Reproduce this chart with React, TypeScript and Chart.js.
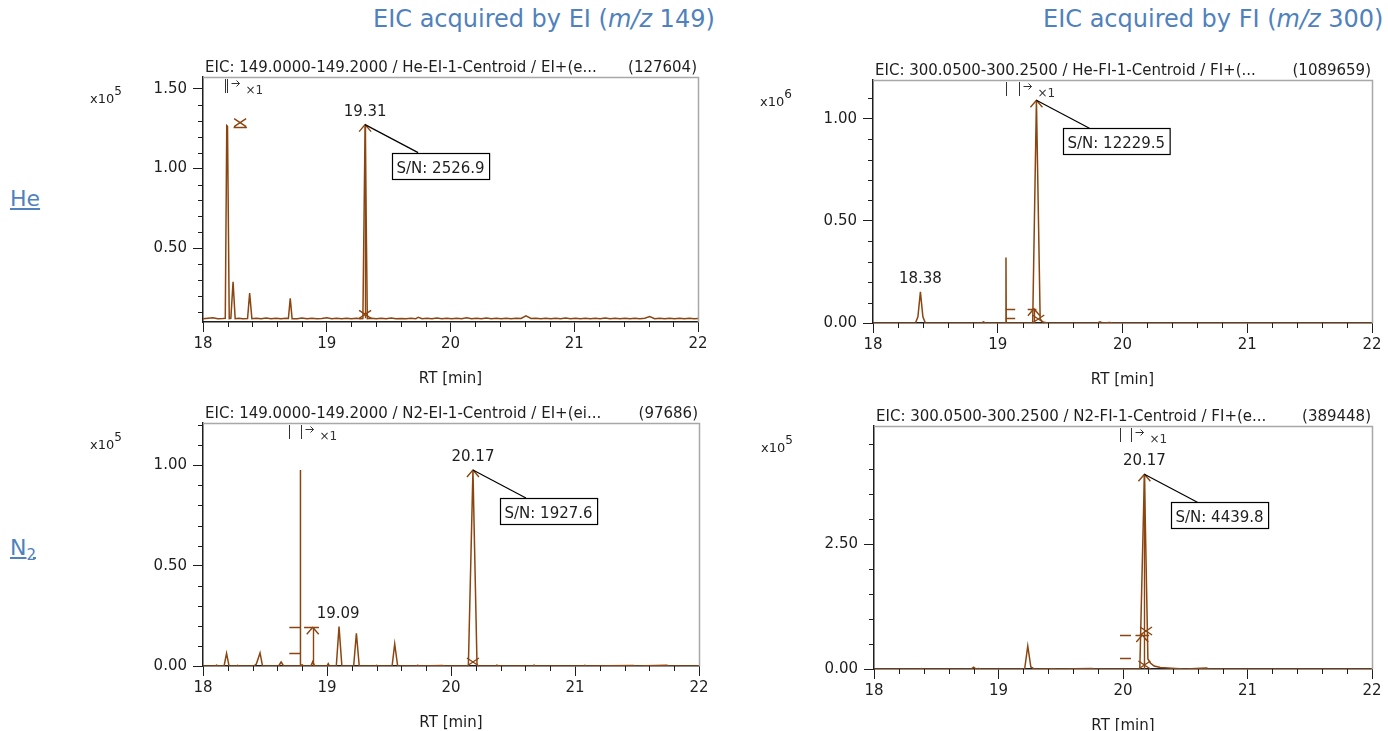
import React, { useEffect, useRef } from "react";
import { Chart, registerables } from "chart.js";

Chart.register(...registerables);

const FONT_FAMILY = "'DejaVu Sans', Verdana, sans-serif";
const BROWN = "#8b4510";
const INK = "#1e1e1e";
const FRAME = "#a8a8a8";
const BLUE = "#4f81bd";

// ---------- He carrier, EI, m/z 149 (intensity x10^5) ----------
const heEiRt = [
  18.0, 18.04, 18.08, 18.12, 18.16, 18.18, 18.192, 18.198, 18.212, 18.225, 18.243, 18.26, 18.29, 18.32, 18.36, 18.377, 18.395,
  18.43, 18.47, 18.51, 18.55, 18.59, 18.63, 18.67, 18.69, 18.705, 18.72, 18.76, 18.8, 18.84, 18.88, 18.92, 18.96,
  19.0, 19.04, 19.08, 19.12, 19.16, 19.2, 19.24, 19.27, 19.292, 19.31, 19.328, 19.36, 19.4, 19.44, 19.48, 19.52,
  19.56, 19.6, 19.64, 19.68, 19.72, 19.74, 19.77, 19.81, 19.85, 19.89, 19.93, 19.97, 20.01, 20.05, 20.09, 20.13,
  20.17, 20.21, 20.25, 20.29, 20.33, 20.37, 20.41, 20.45, 20.49, 20.53, 20.57, 20.61, 20.65, 20.69, 20.73, 20.77,
  20.81, 20.85, 20.89, 20.93, 20.97, 21.01, 21.05, 21.09, 21.13, 21.17, 21.21, 21.25, 21.29, 21.33, 21.37, 21.41,
  21.45, 21.49, 21.53, 21.57, 21.61, 21.65, 21.69, 21.73, 21.77, 21.81, 21.85, 21.89, 21.93, 21.97, 22.0,
];
const heEiInt = [
  0.057, 0.061, 0.064, 0.058, 0.059, 0.06, 1.27, 1.265, 0.058, 0.06, 0.29, 0.058, 0.061, 0.057, 0.059, 0.218, 0.058,
  0.06, 0.058, 0.062, 0.057, 0.06, 0.058, 0.061, 0.059, 0.185, 0.058, 0.057, 0.062, 0.058, 0.06, 0.057, 0.059,
  0.063, 0.058, 0.06, 0.057, 0.061, 0.058, 0.06, 0.058, 0.059, 1.276, 0.058, 0.061, 0.057, 0.06, 0.058, 0.062,
  0.057, 0.059, 0.058, 0.061, 0.058, 0.067, 0.058, 0.06, 0.057, 0.062, 0.058, 0.06, 0.057, 0.061, 0.058, 0.063,
  0.058, 0.06, 0.057, 0.062, 0.058, 0.06, 0.058, 0.061, 0.057, 0.06, 0.059, 0.075, 0.059, 0.06, 0.058, 0.061,
  0.057, 0.06, 0.058, 0.062, 0.057, 0.06, 0.058, 0.061, 0.057, 0.06, 0.058, 0.062, 0.057, 0.06, 0.058, 0.061,
  0.057, 0.06, 0.058, 0.061, 0.071, 0.058, 0.06, 0.057, 0.061, 0.058, 0.06, 0.057, 0.061, 0.058, 0.059,
];

// ---------- He carrier, FI, m/z 300 (intensity x10^6) ----------
const heFiRt = [
  18.0, 18.34, 18.36, 18.38, 18.4, 18.42, 18.87, 18.885, 18.9, 19.064, 19.066, 19.068, 19.28, 19.31, 19.34, 19.36,
  19.4, 19.8, 19.82, 19.84, 19.9, 19.92, 22.0,
];
const heFiInt = [
  0, 0, 0.03, 0.152, 0.03, 0, 0, 0.006, 0, 0, 0.32, 0, 0, 1.09, 0.02, 0.005,
  0, 0, 0.006, 0, 0.003, 0, 0,
];

// ---------- N2 carrier, EI, m/z 149 (intensity x10^5) ----------
const n2EiRt = [
  18.0, 18.1, 18.11, 18.12, 18.17, 18.19, 18.21, 18.27, 18.28, 18.29, 18.41, 18.43, 18.46, 18.48, 18.61, 18.63,
  18.65, 18.783, 18.785, 18.787, 18.8, 18.81, 18.87, 18.885, 18.9, 19.0, 19.01, 19.02, 19.075, 19.097, 19.12, 19.215,
  19.237, 19.26, 19.39, 19.4, 19.41, 19.525, 19.546, 19.57, 19.72, 19.73, 19.75, 19.93, 19.95, 20.14, 20.177, 20.21,
  20.36, 20.37, 20.38, 20.66, 20.67, 20.68, 21.07, 21.08, 21.09, 21.47, 21.49, 21.74, 21.76, 22.0,
];
const n2EiInt = [
  0, 0, 0.004, 0, 0, 0.063, 0, 0, 0.003, 0, 0, 0.01, 0.065, 0, 0, 0.02,
  0, 0, 0.977, 0, 0.006, 0, 0, 0.022, 0, 0, 0.012, 0, 0, 0.196, 0, 0,
  0.163, 0, 0, 0.003, 0, 0, 0.11, 0, 0, 0.003, 0, 0.003, 0, 0, 0.977, 0,
  0, 0.004, 0, 0, 0.004, 0, 0, 0.003, 0, 0.003, 0, 0.004, 0, 0,
];

// ---------- N2 carrier, FI, m/z 300 (intensity x10^5) ----------
const n2FiRt = [
  18.0, 18.37, 18.38, 18.39, 18.78, 18.8, 18.82, 18.84, 18.86, 19.21, 19.235, 19.26, 19.28, 19.3, 19.45, 19.47,
  19.75, 19.77, 20.135, 20.172, 20.2, 20.22, 20.25, 20.3, 20.36, 20.42, 20.5, 20.67, 20.69, 22.0,
];
const n2FiInt = [
  0, 0, 0.01, 0, 0, 0.035, 0, 0.01, 0, 0, 0.46, 0.04, 0.01, 0, 0.005, 0,
  0.01, 0, 0, 3.894, 0.2, 0.12, 0.06, 0.03, 0.02, 0.01, 0, 0.02, 0, 0,
];

// ---------- axis ranges ----------
const rtRange = [18, 22];
const yRanges = { heEi: [0.037, 1.575], heFi: [0, 1.189], n2Ei: [0, 1.211], n2Fi: [0, 4.86] };
const yMajor = { heEi: 0.5, heFi: 0.5, n2Ei: 0.5, n2Fi: 2.5 };
const yMinor = { heEi: 0.1, heFi: 0.1, n2Ei: 0.1, n2Fi: 0.5 };
const exponents = { heEi: "5", heFi: "6", n2Ei: "5", n2Fi: "5" };

// ---------- titles ----------
const titlesLeft = {
  heEi: "EIC: 149.0000-149.2000 / He-EI-1-Centroid / EI+(e...",
  heFi: "EIC: 300.0500-300.2500 / He-FI-1-Centroid / FI+(...",
  n2Ei: "EIC: 149.0000-149.2000 / N2-EI-1-Centroid / EI+(ei...",
  n2Fi: "EIC: 300.0500-300.2500 / N2-FI-1-Centroid / FI+(e...",
};
const titlesRight = { heEi: "(127604)", heFi: "(1089659)", n2Ei: "(97686)", n2Fi: "(389448)" };

// ---------- peak annotations [rt, intensity, text] ----------
const peakLabels = {
  heEi: [[19.31, 1.276, "19.31"]],
  heFi: [[18.38, 0.152, "18.38"]],
  n2Ei: [[19.09, 0.196, "19.09"], [20.177, 0.977, "20.17"]],
  n2Fi: [[20.172, 3.894, "20.17"]],
};
const snCallouts = {
  heEi: [[19.31, 1.276, "S/N: 2526.9"]],
  heFi: [[19.31, 1.09, "S/N: 12229.5"]],
  n2Ei: [[20.177, 0.977, "S/N: 1927.6"]],
  n2Fi: [[20.172, 3.894, "S/N: 4439.8"]],
};
// apex carets [rt, intensity]
const carets = {
  heEi: [[19.31, 1.276]],
  heFi: [[19.31, 1.09], [19.29, 0.07]],
  n2Ei: [[20.177, 0.977], [18.885, 0.193]],
  n2Fi: [[20.172, 3.894], [20.155, 0.68]],
};
// cross marks [rt, intensity]
const crosses = {
  heEi: [[19.31, 0.06], [18.3, 1.263]],
  heFi: [[19.325, 0.0]],
  n2Ei: [[20.177, 0.0]],
  n2Fi: [[20.172, 0.0], [20.185, 0.68]],
};
// horizontal brown segments [rtStart, rtEnd, intensity]
const hSegs = {
  heEi: [[18.247, 18.355, 1.263]],
  heFi: [[19.064, 19.14, 0.07], [19.064, 19.14, 0.026], [19.24, 19.31, 0.07]],
  n2Ei: [[18.696, 18.788, 0.193], [18.696, 18.788, 0.063], [18.815, 18.935, 0.193]],
  n2Fi: [[19.976, 20.064, 0.68], [19.976, 20.064, 0.226], [20.1, 20.21, 0.68]],
};
// vertical brown segments [rt, from, to]
const vSegs = {
  heEi: [[19.31, 0.06, 1.276]],
  heFi: [[19.29, 0, 0.07]],
  n2Ei: [[18.885, 0, 0.193]],
  n2Fi: [[20.172, 0, 3.894]],
};
// range markers [rtStart, rtEnd]
const rangeMarks = { heEi: [18.175, 18.191], heFi: [19.064, 19.168], n2Ei: [18.696, 18.788], n2Fi: [19.976, 20.064] };

// ---------- layout (page pixels of each plot area) ----------
const PADL = 125, PADT = 40, PADR = 14, PADB = 66;
const boxes = {
  heEi: { L: 203, T: 77, R: 698, B: 322 },
  heFi: { L: 873, T: 80, R: 1372, B: 323 },
  n2Ei: { L: 203, T: 423, R: 699, B: 666 },
  n2Fi: { L: 874, T: 426, R: 1372, B: 669 },
};
const series = {
  heEi: [heEiRt, heEiInt],
  heFi: [heFiRt, heFiInt],
  n2Ei: [n2EiRt, n2EiInt],
  n2Fi: [n2FiRt, n2FiInt],
};

type Key = "heEi" | "heFi" | "n2Ei" | "n2Fi";

function makeDecor(key: Key) {
  return {
    id: "decor_" + key,
    afterDraw(chart: any) {
      const ctx: CanvasRenderingContext2D = chart.ctx;
      const xs = chart.scales.x;
      const ys = chart.scales.y;
      const ca = chart.chartArea;
      const px = (v: number) => xs.getPixelForValue(v);
      const py = (v: number) => ys.getPixelForValue(v);
      ctx.save();

      // top/right frame
      ctx.strokeStyle = FRAME;
      ctx.lineWidth = 1.5;
      ctx.beginPath();
      ctx.moveTo(ca.left, Math.round(ca.top) + 0.5);
      ctx.lineTo(Math.round(ca.right) + 0.5, Math.round(ca.top) + 0.5);
      ctx.lineTo(Math.round(ca.right) + 0.5, ca.bottom);
      ctx.stroke();

      // minor ticks
      ctx.strokeStyle = INK;
      ctx.lineWidth = 1;
      ctx.beginPath();
      for (let k = 1; k < 20; k++) {
        const v = rtRange[0] + k * 0.2;
        if (v > rtRange[1] + 1e-9) break;
        if (k % 5 === 0) continue;
        const x = Math.round(px(v)) + 0.5;
        ctx.moveTo(x, ca.bottom);
        ctx.lineTo(x, ca.bottom + 5);
      }
      const [ymin, ymax] = yRanges[key];
      const mi = yMinor[key];
      const ma = yMajor[key];
      for (let k = Math.ceil(ymin / mi - 1e-6); k * mi <= ymax + 1e-9; k++) {
        const v = k * mi;
        const r = v / ma;
        if (Math.abs(r - Math.round(r)) < 1e-6) continue;
        const y = Math.round(py(v)) + 0.5;
        ctx.moveTo(ca.left - 5, y);
        ctx.lineTo(ca.left, y);
      }
      ctx.stroke();

      // exponent label
      ctx.fillStyle = INK;
      ctx.textBaseline = "alphabetic";
      ctx.textAlign = "left";
      ctx.font = `13px ${FONT_FAMILY}`;
      const ex = ca.left - 113;
      const ey = ca.top + 26;
      ctx.fillText("x10", ex, ey);
      const w10 = ctx.measureText("x10").width;
      ctx.font = `12px ${FONT_FAMILY}`;
      ctx.fillText(exponents[key], ex + w10, ey - 8);

      // title
      ctx.font = `15px ${FONT_FAMILY}`;
      ctx.textAlign = "left";
      ctx.fillText(titlesLeft[key], ca.left + 2, ca.top - 5);
      ctx.textAlign = "right";
      ctx.fillText(titlesRight[key], ca.right - 1, ca.top - 5);

      // range marker "| |-> x1"
      const [r1, r2] = rangeMarks[key];
      const x1 = Math.round(px(r1)) + 0.5;
      const x2 = Math.round(px(r2)) + 0.5;
      ctx.strokeStyle = "#333";
      ctx.lineWidth = 1;
      ctx.beginPath();
      ctx.moveTo(x1, ca.top + 2);
      ctx.lineTo(x1, ca.top + 16);
      ctx.moveTo(x2, ca.top + 2);
      ctx.lineTo(x2, ca.top + 16);
      ctx.moveTo(x2 + 4, ca.top + 6.5);
      ctx.lineTo(x2 + 12, ca.top + 6.5);
      ctx.moveTo(x2 + 9, ca.top + 3.5);
      ctx.lineTo(x2 + 12, ca.top + 6.5);
      ctx.lineTo(x2 + 9, ca.top + 9.5);
      ctx.stroke();
      ctx.font = `12px ${FONT_FAMILY}`;
      ctx.textAlign = "left";
      ctx.fillStyle = "#333";
      ctx.fillText("\u00d71", x2 + 18, ca.top + 17);

      // brown marks
      ctx.strokeStyle = BROWN;
      ctx.lineWidth = 1.4;
      ctx.beginPath();
      for (const [a, b, v] of hSegs[key] as number[][]) {
        const y = Math.round(py(v)) + 0.5;
        ctx.moveTo(px(a), y);
        ctx.lineTo(px(b), y);
      }
      for (const [r, a, b] of vSegs[key] as number[][]) {
        const x = Math.round(px(r)) + 0.5;
        ctx.moveTo(x, py(a));
        ctx.lineTo(x, py(b));
      }
      for (const [r, v] of carets[key] as number[][]) {
        const x = px(r), y = py(v);
        ctx.moveTo(x - 6, y + 7);
        ctx.lineTo(x, y);
        ctx.lineTo(x + 6, y + 7);
      }
      for (const [r, v] of crosses[key] as number[][]) {
        const x = px(r), y = py(v) - 4;
        ctx.moveTo(x - 6, y - 4);
        ctx.lineTo(x + 6, y + 4);
        ctx.moveTo(x - 6, y + 4);
        ctx.lineTo(x + 6, y - 4);
      }
      ctx.stroke();

      // peak labels
      ctx.fillStyle = INK;
      ctx.font = `15px ${FONT_FAMILY}`;
      ctx.textAlign = "center";
      for (const [r, v, t] of peakLabels[key] as any[]) {
        ctx.fillText(t, px(r), py(v) - 9);
      }

      // S/N callouts
      for (const [r, v, t] of snCallouts[key] as any[]) {
        const x0 = px(r), y0 = py(v);
        ctx.strokeStyle = "#000";
        ctx.lineWidth = 1.2;
        ctx.beginPath();
        ctx.moveTo(x0, y0);
        ctx.lineTo(x0 + 53, y0 + 28);
        ctx.stroke();
        ctx.font = `15px ${FONT_FAMILY}`;
        const tw = ctx.measureText(t).width;
        const bx = Math.round(x0 + 27) + 0.5, by = Math.round(y0 + 28) + 0.5;
        ctx.fillStyle = "#fff";
        ctx.fillRect(bx, by, tw + 9, 26);
        ctx.strokeRect(bx, by, tw + 9, 26);
        ctx.fillStyle = INK;
        ctx.textAlign = "left";
        ctx.fillText(t, bx + 4, by + 19);
      }
      ctx.restore();
    },
  };
}

function Panel({ k }: { k: Key }) {
  const ref = useRef<HTMLCanvasElement>(null);
  const box = boxes[k];
  const w = box.R - box.L + PADL + PADR;
  const h = box.B - box.T + PADT + PADB;
  useEffect(() => {
    const [rt, inten] = series[k];
    const font = { family: FONT_FAMILY, size: 15 };
    const chart = new Chart(ref.current!, {
      type: "line",
      data: {
        datasets: [
          {
            data: rt.map((x, i) => ({ x, y: inten[i] })),
            borderColor: BROWN,
            borderWidth: 1.5,
            pointRadius: 0,
            tension: 0,
            fill: false,
          },
        ],
      },
      options: {
        animation: false,
        responsive: false,
        maintainAspectRatio: false,
        devicePixelRatio: 1,
        layout: { padding: { left: 0, top: PADT, right: PADR, bottom: 0 } },
        plugins: { legend: { display: false }, tooltip: { enabled: false } },
        scales: {
          x: {
            type: "linear",
            min: rtRange[0],
            max: rtRange[1],
            ticks: {
              stepSize: 1,
              font,
              color: INK,
              padding: 3,
              maxRotation: 0,
              autoSkip: false,
              includeBounds: false,
              callback: (v: any) => String(v),
            },
            grid: { display: true, drawOnChartArea: false, drawTicks: true, tickLength: 10, color: INK },
            border: { display: true, color: INK, width: 1.5 },
            title: { display: true, text: "RT [min]", font, color: INK, padding: { top: 0, bottom: 0 } },
            afterFit: (s: any) => {
              s.height = PADB;
            },
          },
          y: {
            type: "linear",
            min: yRanges[k][0],
            max: yRanges[k][1],
            ticks: {
              stepSize: yMajor[k],
              font,
              color: INK,
              padding: 6,
              autoSkip: false,
              includeBounds: false,
              callback: (v: any) => Number(v).toFixed(2),
            },
            grid: { display: true, drawOnChartArea: false, drawTicks: true, tickLength: 10, color: INK },
            border: { display: true, color: INK, width: 1.5 },
            afterFit: (s: any) => {
              s.width = PADL;
            },
          },
        },
      },
      plugins: [makeDecor(k)],
    } as any);
    return () => chart.destroy();
  }, []);
  return (
    <canvas
      ref={ref}
      width={w}
      height={h}
      style={{ position: "absolute", left: box.L - PADL, top: box.T - PADT, width: w, height: h }}
    />
  );
}

const headerStyle: React.CSSProperties = {
  position: "absolute",
  top: 5,
  fontFamily: FONT_FAMILY,
  fontSize: 24,
  color: BLUE,
  whiteSpace: "nowrap",
  lineHeight: "28px",
};
const rowStyle: React.CSSProperties = {
  position: "absolute",
  left: 10,
  fontFamily: FONT_FAMILY,
  fontSize: 22,
  color: BLUE,
  textDecoration: "underline",
  lineHeight: "26px",
  whiteSpace: "nowrap",
};

export default function App() {
  return (
    <div
      style={{
        position: "fixed",
        left: 0,
        top: 0,
        width: 1388,
        height: 731,
        overflow: "hidden",
        background: "#fff",
      }}
    >
      <div style={{ ...headerStyle, left: 373 }}>
        EIC acquired by EI (<i>m/z</i> 149)
      </div>
      <div style={{ ...headerStyle, left: 1043 }}>
        EIC acquired by FI (<i>m/z</i> 300)
      </div>
      <div style={{ ...rowStyle, top: 186 }}>He</div>
      <div style={{ ...rowStyle, top: 535 }}>
        N<sub style={{ fontSize: 15 }}>2</sub>
      </div>
      <Panel k="heEi" />
      <Panel k="heFi" />
      <Panel k="n2Ei" />
      <Panel k="n2Fi" />
    </div>
  );
}
